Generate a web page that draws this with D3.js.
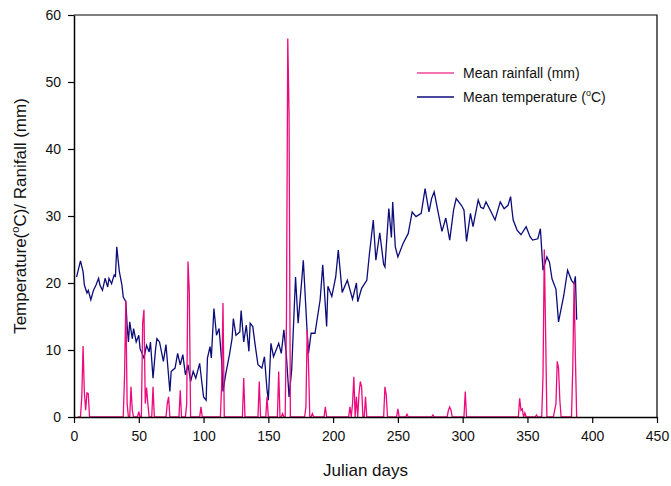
<!DOCTYPE html>
<meta charset="utf-8">
<body style="margin:0;background:#fff">
<script src="https://cdn.jsdelivr.net/npm/d3@7"></script>
<script>
// temperature readings (julian day, mean temp)
var tempDays = [2,5,7,8,10,11,13,15,17,19,20,22,24,26,27,29,31,32,33,35,37,38,40,41,42,43,45,46,48,50,51,54,56,58,59,61,63,64,66,69,71,74,75,78,80,82,84,86,88,90,92,94,97,98,100,102,103,105,106,108,110,112,114,115,117,120,122,123,125,128,129,131,133,135,136,138,140,142,145,147,149,150,152,154,156,158,160,162,164,166,168,171,173,176,177,180,181,183,186,190,192,195,196,199,202,204,207,211,215,218,219,222,226,228,231,233,236,239,240,243,245,246,248,250,254,258,261,264,268,271,274,276,278,281,284,287,290,293,295,299,301,303,306,308,312,314,316,318,322,325,329,332,335,337,338,339,342,345,349,352,354,358,360,362,365,367,369,372,374,378,381,384,386,387,388];
var tempVals = [20.9,23.3,21.7,19.7,18.5,18.9,17.5,18.9,19.7,20.7,19.7,18.9,20.7,19.4,20.7,19.9,21.2,21.0,25.4,21.7,19.7,17.9,17.2,13.7,11.2,14.2,11.7,13.2,11.2,12.2,10.2,8.8,10.7,9.7,11.2,5.8,10.2,11.7,11.2,8.3,10.8,3.8,6.8,7.3,9.5,7.8,9.3,6.3,7.8,5.3,6.8,5.8,8.0,6.3,3.0,2.5,8.8,10.5,8.8,16.2,12.2,13.2,8.3,3.8,6.3,9.3,11.7,14.7,12.2,12.7,15.9,11.2,13.7,9.8,14.0,13.5,10.5,7.8,7.3,9.0,4.0,2.5,11.0,9.0,10.0,11.0,9.5,13.0,9.0,3.0,7.0,20.9,14.0,20.9,23.4,12.5,9.5,12.5,12.5,17.5,22.7,13.5,19.5,18.0,20.9,24.9,18.6,20.4,17.6,20.0,17.2,19.2,20.4,24.3,29.4,23.4,27.5,22.8,22.4,31.1,26.8,32.1,25.4,23.9,25.9,27.4,30.6,29.9,30.4,34.1,30.6,32.6,33.6,30.6,27.7,29.7,26.4,30.9,32.6,31.6,30.9,26.2,30.4,28.4,32.4,31.3,31.1,32.1,30.6,29.4,32.1,31.1,31.6,32.9,31.0,29.4,27.9,27.2,28.4,26.9,26.4,26.6,28.1,21.9,23.9,23.1,20.6,19.1,14.2,18.1,21.9,20.4,19.9,21.0,14.5];

// rainy days (every other day from 3 to 388 had 0 mm)
var rainDays = [6,7,8,9,10,11,39,40,41,44,45,50,53,54,55,56,57,61,72,73,82,87,88,89,98,114,115,131,143,149,158,161,164,165,166,179,180,181,184,194,213,215,216,218,220,221,222,225,240,241,250,257,277,289,290,291,302,344,345,346,348,357,362,363,364,371,372,373,374,375,385,386,387];
var rainVals = [3,10.6,3.6,1,3.6,3.5,6,17.4,2,4.5,1,0.8,14,16,2,4.4,2,4.5,2,3,4,2,23.2,18.7,1.5,5,17,5.8,5.3,3,6.8,0.5,14.7,56.5,45,1.5,13,8,0.5,1.5,1.5,2,6,3,3.5,5.3,4.5,3,4.5,3.3,1.2,0.4,0.3,1,1.5,1,3.8,2.8,1,1.2,0.6,0.3,6,25,13,1,2,8.3,7.3,2.5,7.5,20.2,9];
var rainFirst = 3, rainLast = 388;

var xTicks = [0,50,100,150,200,250,300,350,400,450];
var yTicks = [0,10,20,30,40,50,60];

var W = 671, H = 486;
var m = {left:74, top:15, right:657, bottom:417};

var svg = d3.select("body").append("svg")
	.attr("width", W).attr("height", H)
	.style("font-family", "'Liberation Sans', Arial, sans-serif");

var x = d3.scaleLinear().domain([0,450]).range([m.left, m.right]);
var y = d3.scaleLinear().domain([0,60]).range([m.bottom, m.top]);

// daily rain series
var rainMap = {};
rainDays.forEach(function(d,i){ rainMap[d] = rainVals[i]; });
var rain = d3.range(rainFirst, rainLast+1).map(function(d){ return [d, rainMap[d] || 0]; });
var temp = tempDays.map(function(d,i){ return [d, tempVals[i]]; });

var line = d3.line().x(function(d){return x(d[0]);}).y(function(d){return y(d[1]);});

svg.append("path").datum(temp)
	.attr("d", line).attr("fill","none")
	.attr("stroke","#0c0c7a").attr("stroke-width",1.3);
svg.append("path").datum(rain)
	.attr("d", line).attr("fill","none")
	.attr("stroke","#ec0a7d").attr("stroke-width",1.3);

// frame
svg.append("path")
	.attr("d", "M"+m.left+","+m.top+"H"+m.right+"V"+m.bottom)
	.attr("fill","none").attr("stroke","#000").attr("stroke-width",1.2);

var xAxis = svg.append("g")
	.attr("transform","translate(0,"+m.bottom+")")
	.call(d3.axisBottom(x).tickValues(xTicks).tickSize(6).tickPadding(8).tickSizeOuter(0));
var yAxis = svg.append("g")
	.attr("transform","translate("+m.left+",0)")
	.call(d3.axisLeft(y).tickValues(yTicks).tickSize(6).tickPadding(7).tickSizeOuter(0));
svg.selectAll(".domain").attr("stroke","#000").attr("stroke-width",1.5);
svg.selectAll(".tick line").attr("stroke","#000").attr("stroke-width",1.2);
svg.selectAll(".tick text").attr("font-size",14).attr("fill","#111")
	.attr("font-family","'Liberation Sans', Arial, sans-serif");

// axis titles
svg.append("text")
	.attr("x", (m.left+m.right)/2).attr("y", 476)
	.attr("text-anchor","middle").attr("font-size",17).attr("fill","#111")
	.text("Julian days");
var yt = svg.append("text")
	.attr("transform","translate(26,"+((m.top+m.bottom)/2)+") rotate(-90)")
	.attr("text-anchor","middle").attr("font-size",17).attr("fill","#111");
yt.append("tspan").text("Temperature(");
yt.append("tspan").attr("dy",-7).attr("font-size",11).text("o");
yt.append("tspan").attr("dy",7).text("C)/ Ranifall (mm)");

// legend
var legend = svg.append("g");
legend.append("line").attr("x1",417).attr("x2",454).attr("y1",73).attr("y2",73)
	.attr("stroke","#f0449a").attr("stroke-width",1.3);
legend.append("line").attr("x1",417).attr("x2",454).attr("y1",97).attr("y2",97)
	.attr("stroke","#0c0c7a").attr("stroke-width",1.3);
legend.append("text").attr("x",463).attr("y",78).attr("font-size",14).attr("fill","#111")
	.text("Mean rainfall (mm)");
var lt = legend.append("text").attr("x",463).attr("y",102).attr("font-size",14).attr("fill","#111");
lt.append("tspan").text("Mean temperature (");
lt.append("tspan").attr("dy",-6).attr("font-size",9).text("o");
lt.append("tspan").attr("dy",6).text("C)");
</script>
</body>
